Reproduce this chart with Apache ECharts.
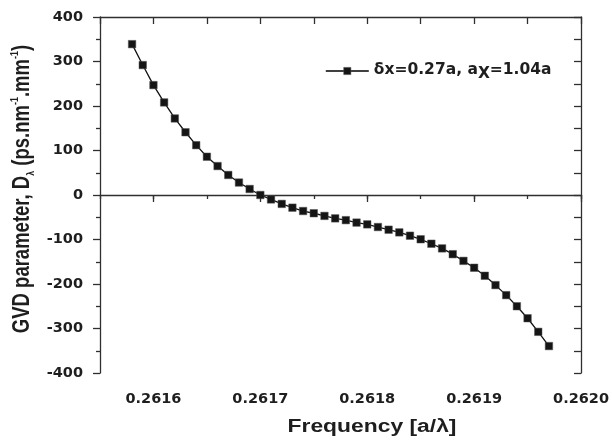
<!DOCTYPE html>
<html>
<head>
<meta charset="utf-8">
<script src="https://cdn.jsdelivr.net/npm/echarts@6/dist/echarts.min.js"></script>
<style>
  html, body { margin: 0; padding: 0; background: #fff; }
  #chart { width: 612px; height: 441px; }
</style>
</head>
<body>
<div id="chart"></div>
<script>
// Normalised frequency a/λ of each computed point
const freq = [
  0.26158, 0.26159, 0.26160, 0.26161, 0.26162, 0.26163, 0.26164, 0.26165,
  0.26166, 0.26167, 0.26168, 0.26169, 0.26170, 0.26171, 0.26172, 0.26173,
  0.26174, 0.26175, 0.26176, 0.26177, 0.26178, 0.26179, 0.26180, 0.26181,
  0.26182, 0.26183, 0.26184, 0.26185, 0.26186, 0.26187, 0.26188, 0.26189,
  0.26190, 0.26191, 0.26192, 0.26193, 0.26194, 0.26195, 0.26196, 0.26197
];
// Group velocity dispersion D_λ (ps.nm^-1.mm^-1)
const gvd = [
  339, 292, 247, 208, 172, 141, 112, 86,
  65, 45, 28, 13.5, 0, -10, -20, -28.5,
  -36, -41, -47, -52.5, -56.5, -62, -66, -72,
  -78, -84, -91.5, -99.5, -109.5, -120, -133, -148,
  -163.5, -181.5, -202.5, -225, -250, -277, -307.5, -339.5
];
const xMajorTicks = [0.2616, 0.2617, 0.2618, 0.2619, 0.2620];
const seriesName = 'δx=0.27a, aX=1.04a';

const xMin = 0.26155, xMax = 0.2620;
const yMin = -400, yMax = 400;

const labelFont = { fontFamily: '"DejaVu Sans"', fontWeight: 'bold', fontSize: 14.5, color: '#1e1e1e' };
const axisLineStyle = { color: '#2f2f2f', width: 1.3 };
const markerStyle = { color: '#151515', borderColor: '#555', borderWidth: 0.5 };
const curveStyle = { color: '#111', width: 1.3 };

const chart = echarts.init(document.getElementById('chart'), null, { renderer: 'canvas' });

chart.setOption({
  animation: false,
  backgroundColor: '#ffffff',
  grid: { left: 100, right: 28, top: 17, bottom: 68 },
  xAxis: [
    { // bottom: major ticks + labels
      type: 'value', position: 'bottom', min: xMin, max: xMax,
      axisLine: { show: true, lineStyle: axisLineStyle },
      axisTick: { show: true, inside: false, length: 7, customValues: xMajorTicks, lineStyle: axisLineStyle },
      axisLabel: Object.assign({ show: true, margin: 19, customValues: xMajorTicks,
        formatter: v => v.toFixed(4) }, labelFont),
      splitLine: { show: false }
    },
    { // bottom: half-step minor ticks
      type: 'value', position: 'bottom', min: xMin, max: xMax, interval: 0.00005,
      axisLine: { show: false },
      axisTick: { show: true, inside: false, length: 4, lineStyle: axisLineStyle },
      axisLabel: { show: false }, splitLine: { show: false }
    },
    { // top frame
      type: 'value', position: 'top', min: xMin, max: xMax, interval: 0.00005,
      axisLine: { show: true, lineStyle: axisLineStyle },
      axisTick: { show: true, inside: true, length: 7, lineStyle: axisLineStyle },
      axisLabel: { show: false }, splitLine: { show: false }
    }
  ],
  yAxis: [
    {
      type: 'value', position: 'left', min: yMin, max: yMax, interval: 100,
      axisLine: { show: true, lineStyle: axisLineStyle },
      axisTick: { show: true, inside: false, length: 7, lineStyle: axisLineStyle },
      minorTick: { show: true, splitNumber: 2, length: 4, lineStyle: axisLineStyle },
      axisLabel: Object.assign({ show: true, margin: 17 }, labelFont),
      splitLine: { show: false }
    },
    { // right frame
      type: 'value', position: 'right', min: yMin, max: yMax, interval: 50,
      axisLine: { show: true, lineStyle: axisLineStyle },
      axisTick: { show: true, inside: true, length: 7, lineStyle: axisLineStyle },
      axisLabel: { show: false }, splitLine: { show: false }
    }
  ],
  legend: {
    data: [seriesName],
    left: 320, top: 57,
    itemWidth: 43, itemHeight: 9, itemGap: 0,
    itemStyle: markerStyle,
    lineStyle: { color: '#000', width: 1.6 },
    formatter: () => '{m|δx=0.27a, a}{s|X}{m|=1.04a}',
    textStyle: {
      rich: {
        m: { fontFamily: '"DejaVu Sans"', fontWeight: 'bold', fontSize: 15.5, color: '#1e1e1e', lineHeight: 18, verticalAlign: 'top' },
        s: { fontFamily: '"DejaVu Sans"', fontWeight: 'bold', fontSize: 15.5, color: '#1e1e1e', lineHeight: 18, verticalAlign: 'top', padding: [4, 0, 0, 0] }
      }
    }
  },
  series: [{
    name: seriesName,
    type: 'line',
    xAxisIndex: 0, yAxisIndex: 0,
    data: freq.map((f, i) => [f, gvd[i]]),
    symbol: 'rect', symbolSize: 7.5,
    itemStyle: markerStyle,
    lineStyle: curveStyle,
    emphasis: { disabled: true }
  }],
  graphic: [
    {
      type: 'text', x: 372, y: 427, scaleX: 1.27,
      style: {
        text: 'Frequency [a/λ]',
        font: 'bold 18px "Liberation Sans", Arial, sans-serif',
        fill: '#1e1e1e', align: 'center', verticalAlign: 'middle'
      }
    },
    {
      type: 'text', x: 23, y: 189, rotation: Math.PI / 2, scaleY: 1.27,
      style: {
        text: '{m|GVD parameter, D}{sub|λ}{m| (ps.nm}{sup|-1}{m|.mm}{sup|-1}{m|)}',
        align: 'center', verticalAlign: 'middle',
        rich: {
          m: { fontFamily: '"Liberation Sans", Arial', fontWeight: 'bold', fontSize: 18.5, fill: '#1e1e1e', lineHeight: 22 },
          sub: { fontFamily: '"Liberation Sans", Arial', fontWeight: 'bold', fontSize: 9, fill: '#1e1e1e', lineHeight: 9, verticalAlign: 'bottom' },
          sup: { fontFamily: '"Liberation Sans", Arial', fontWeight: 'bold', fontSize: 9, fill: '#1e1e1e', lineHeight: 9, verticalAlign: 'top' }
        }
      }
    }
  ]
});
</script>
</body>
</html>
